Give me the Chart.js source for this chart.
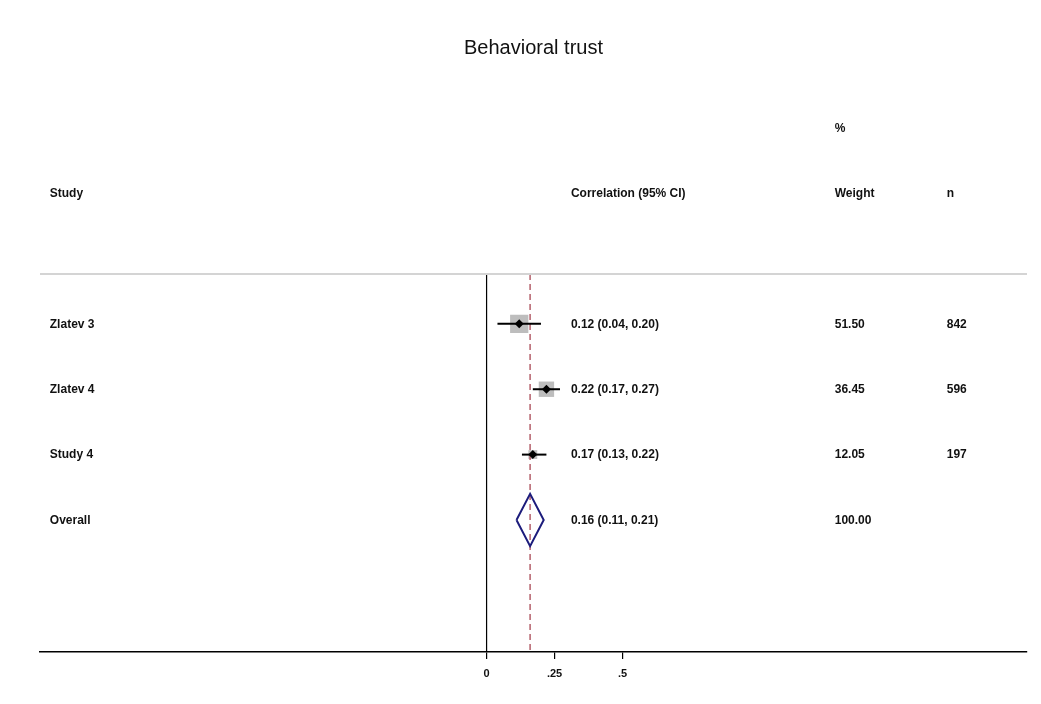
<!DOCTYPE html>
<html>
<head>
<meta charset="utf-8">
<script src="https://cdn.jsdelivr.net/npm/chart.js@4.4.1/dist/chart.umd.min.js"></script>
<style>
html,body{margin:0;padding:0;background:#fff;}
#wrap{width:1041px;height:704px;position:relative;}
</style>
</head>
<body>
<div id="wrap"><canvas id="c" width="1041" height="704"></canvas></div>
<script>
// ---- data ----
const title = "Behavioral trust";
const studies = ["Zlatev 3", "Zlatev 4", "Study 4"];
const estimates = [0.12, 0.22, 0.17];
const lowerCI = [0.04, 0.17, 0.13];
const upperCI = [0.20, 0.27, 0.22];
const weights = [51.50, 36.45, 12.05];
const sampleN = [842, 596, 197];
const overallLabel = "Overall";
const overall = [0.16, 0.11, 0.21]; // estimate, lower, upper
const overallWeight = 100.00;
const xTicks = [0, 0.25, 0.5];
const xTickLabels = ["0", ".25", ".5"];
const headers = {study: "Study", ci: "Correlation (95% CI)", pct: "%", weight: "Weight", n: "n"};

// ---- layout ----
const X_MIN = -1.642, X_MAX = 1.987;
const Y_MIN = 0.237, Y_MAX = 6.02;
const rowsY = studies.map((_, i) => i + 1);
const overallY = studies.length + 1;
const COL = {study: -1.606, ci: 0.31, weight: 1.28, n: 1.692};
const FONT = '"Liberation Sans", Arial, sans-serif';

const ciSets = studies.map((s, i) => ({
  type: 'scatter', showLine: true,
  data: [{x: lowerCI[i], y: rowsY[i]}, {x: upperCI[i], y: rowsY[i]}],
  borderColor: '#000', borderWidth: 2, pointRadius: 0, order: 2
}));

const squares = {
  type: 'scatter',
  data: studies.map((s, i) => ({x: estimates[i], y: rowsY[i]})),
  pointStyle: 'rect',
  pointRadius: weights.map(w => 1.8 * Math.sqrt(w)),
  backgroundColor: '#bdbdbd', borderColor: '#bdbdbd', borderWidth: 0, order: 4
};
const dots = {
  type: 'scatter',
  data: studies.map((s, i) => ({x: estimates[i], y: rowsY[i]})),
  pointStyle: 'rectRot', pointRadius: 4.5,
  backgroundColor: '#000', borderColor: '#000', borderWidth: 0, order: 0
};
const dh = 0.4;
const diamond = {
  type: 'scatter', showLine: true,
  data: [{x: overall[1], y: overallY}, {x: overall[0], y: overallY - dh},
         {x: overall[2], y: overallY}, {x: overall[0], y: overallY + dh},
         {x: overall[1], y: overallY}],
  borderColor: '#1c1c7c', borderWidth: 2, pointRadius: 0, order: 1
};
const zeroLine = {
  type: 'scatter', showLine: true,
  data: [{x: 0, y: Y_MIN}, {x: 0, y: Y_MAX}],
  borderColor: '#000', borderWidth: 1.2, pointRadius: 0, order: 5
};
const refLine = {
  type: 'scatter', showLine: true,
  data: [{x: overall[0], y: Y_MIN}, {x: overall[0], y: Y_MAX}],
  borderColor: '#b4606c', borderWidth: 1.5, borderDash: [6, 4], pointRadius: 0, order: 3
};

const textPlugin = {
  id: 'forestText',
  afterDraw(chart) {
    const ctx = chart.ctx, xs = chart.scales.x, ys = chart.scales.y, a = chart.chartArea;
    ctx.save();
    // header line
    ctx.strokeStyle = '#d4d4d4'; ctx.lineWidth = 2;
    ctx.beginPath(); ctx.moveTo(a.left, a.top); ctx.lineTo(a.right, a.top); ctx.stroke();
    // title
    ctx.fillStyle = '#111';
    ctx.font = '20px ' + FONT;
    ctx.textAlign = 'center'; ctx.textBaseline = 'middle';
    ctx.fillText(title, (a.left + a.right) / 2, 48);
    // texts
    ctx.fillStyle = '#111';
    ctx.font = 'bold 12px ' + FONT;
    ctx.textAlign = 'left';
    const put = (t, col, y) => ctx.fillText(t, xs.getPixelForValue(col), ys.getPixelForValue(y) + 0.5);
    put(headers.pct, COL.weight, -2);
    put(headers.study, COL.study, -1);
    put(headers.ci, COL.ci, -1);
    put(headers.weight, COL.weight, -1);
    put(headers.n, COL.n, -1);
    studies.forEach((s, i) => {
      put(s, COL.study, rowsY[i]);
      put(estimates[i].toFixed(2) + ' (' + lowerCI[i].toFixed(2) + ', ' + upperCI[i].toFixed(2) + ')', COL.ci, rowsY[i]);
      put(weights[i].toFixed(2), COL.weight, rowsY[i]);
      put(String(sampleN[i]), COL.n, rowsY[i]);
    });
    put(overallLabel, COL.study, overallY);
    put(overall[0].toFixed(2) + ' (' + overall[1].toFixed(2) + ', ' + overall[2].toFixed(2) + ')', COL.ci, overallY);
    put(overallWeight.toFixed(2), COL.weight, overallY);
    ctx.restore();
  }
};

new Chart(document.getElementById('c'), {
  type: 'scatter',
  data: {datasets: [zeroLine, refLine, ...ciSets, squares, dots, diamond]},
  options: {
    responsive: false, animation: false,
    layout: {padding: {top: 274, left: 40, right: 14, bottom: 0}},
    plugins: {legend: {display: false}, title: {display: false}, tooltip: {enabled: false}},
    scales: {
      x: {
        type: 'linear', min: X_MIN, max: X_MAX,
        afterBuildTicks: s => { s.ticks = xTicks.map(v => ({value: v})); },
        afterFit: s => { s.height = 52; },
        grid: {drawOnChartArea: false, drawTicks: true, tickLength: 7, color: '#000', lineWidth: 1.2},
        border: {display: true, color: '#000', width: 1.5},
        ticks: {
          autoSkip: false, maxRotation: 0, padding: 8, color: '#111',
          font: {family: FONT, size: 11, weight: 'bold'},
          callback: v => { const i = xTicks.indexOf(v); return i >= 0 ? xTickLabels[i] : ''; }
        }
      },
      y: {type: 'linear', reverse: true, min: Y_MIN, max: Y_MAX, display: false}
    }
  },
  plugins: [textPlugin]
});
</script>
</body>
</html>
